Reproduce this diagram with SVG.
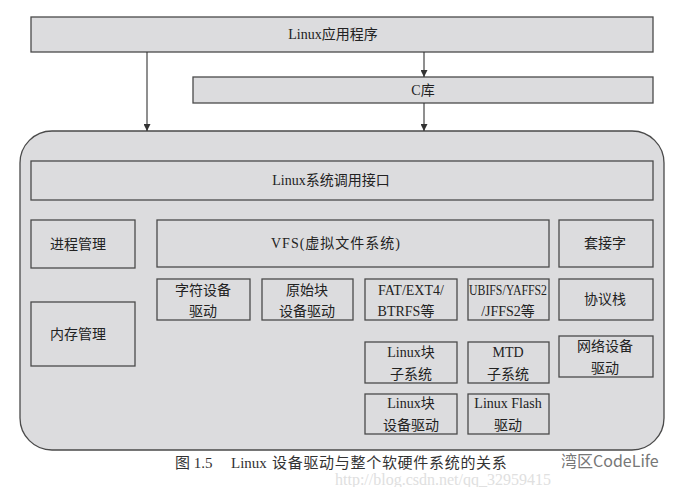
<svg xmlns="http://www.w3.org/2000/svg" width="678" height="487" viewBox="0 0 678 487">
<defs>
<marker id="ah" viewBox="0 0 10 10" refX="10" refY="5" markerWidth="7" markerHeight="7" markerUnits="userSpaceOnUse" orient="auto">
<path d="M0,0 L10,5 L0,10 z" fill="#333"/>
</marker>
<style>
.box{fill:#dcdcde;stroke:#4a4a4a;stroke-width:1.3}
.t{font-family:"Liberation Serif","Noto Sans CJK SC",serif;font-size:14px;fill:#222;text-anchor:middle}
.e{stroke:#333;stroke-width:1.1;fill:none;marker-end:url(#ah)}
.cap{font-family:"Liberation Serif","Noto Sans CJK SC",serif;font-size:15px;fill:#333}
</style>
</defs>
<rect width="678" height="487" fill="#fff"/>
<g id="app"><rect class="box" x="31" y="17" width="622" height="35"/><text class="t" x="333" y="39">Linux应用程序</text></g>
<g id="clib"><rect class="box" x="193" y="77" width="460" height="26"/><text class="t" x="423" y="95">C库</text></g>
<g id="kernel"><rect class="box" x="20" y="131" width="644" height="319" rx="32" ry="32"/></g>
<g id="syscall"><rect class="box" x="31" y="161" width="622" height="39"/><text class="t" x="331" y="185">Linux系统调用接口</text></g>
<g id="proc"><rect class="box" x="31" y="220" width="104" height="48"/><text class="t" x="78" y="249">进程管理</text></g>
<g id="mem"><rect class="box" x="31" y="302" width="104" height="64"/><text class="t" x="78" y="339">内存管理</text></g>
<g id="vfs"><rect class="box" x="157" y="220" width="392" height="47"/><text class="t" x="336" y="248" letter-spacing="1">VFS(虚拟文件系统)</text></g>
<g id="socket"><rect class="box" x="559" y="220" width="94" height="47"/><text class="t" x="605" y="248">套接字</text></g>
<g id="chardev"><rect class="box" x="157" y="279" width="93" height="41"/><text class="t" x="203" y="295">字符设备</text><text class="t" x="203" y="316">驱动</text></g>
<g id="rawblk"><rect class="box" x="262" y="279" width="91" height="41"/><text class="t" x="307" y="295">原始块</text><text class="t" x="307" y="316">设备驱动</text></g>
<g id="fat"><rect class="box" x="365" y="279" width="92" height="41"/><text class="t" x="411" y="295">FAT/EXT4/</text><text class="t" x="406" y="316">BTRFS等</text></g>
<g id="ubifs"><rect class="box" x="468" y="279" width="81" height="41"/><text class="t" x="508" y="295" textLength="78" lengthAdjust="spacingAndGlyphs">UBIFS/YAFFS2</text><text class="t" x="508" y="316">/JFFS2等</text></g>
<g id="proto"><rect class="box" x="559" y="279" width="94" height="41"/><text class="t" x="605" y="304">协议栈</text></g>
<g id="blksub"><rect class="box" x="365" y="342" width="92" height="41"/><text class="t" x="411" y="357">Linux块</text><text class="t" x="411" y="379">子系统</text></g>
<g id="mtd"><rect class="box" x="468" y="342" width="81" height="41"/><text class="t" x="508" y="357">MTD</text><text class="t" x="508" y="379">子系统</text></g>
<g id="netdrv"><rect class="box" x="559" y="336" width="94" height="41"/><text class="t" x="605" y="351">网络设备</text><text class="t" x="605" y="373">驱动</text></g>
<g id="blkdrv"><rect class="box" x="365" y="394" width="92" height="40"/><text class="t" x="411" y="408">Linux块</text><text class="t" x="411" y="430">设备驱动</text></g>
<g id="flash"><rect class="box" x="468" y="394" width="81" height="40"/><text class="t" x="508" y="408">Linux Flash</text><text class="t" x="508" y="430">驱动</text></g>
<g id="connectors">
<path class="e" d="M147,52 V131"/>
<path class="e" d="M424,52 V77"/>
<path class="e" d="M424,103 V131"/>
</g>
<text x="335" y="485" font-family="Liberation Serif,serif" font-size="16" fill="#e0e0e0">http://blog.csdn.net/qq_32959415</text>
<text class="cap" y="468"><tspan x="175">图 1.5</tspan><tspan x="231">Linux</tspan><tspan x="272" letter-spacing="0.7">设备驱动与整个软硬件系统的关系</tspan></text>
<text x="561" y="467" font-family="'Noto Sans CJK SC',sans-serif" font-size="16" fill="#777">湾区CodeLife</text>
</svg>
